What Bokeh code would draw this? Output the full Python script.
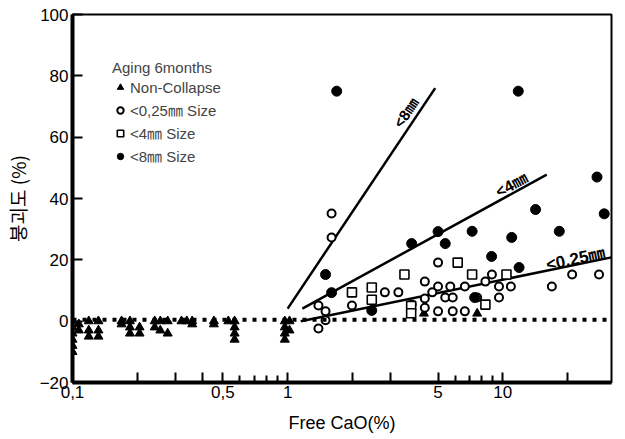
from bokeh.plotting import figure
from bokeh.models import Range1d, FixedTicker, Span, Legend, LegendItem, ColumnDataSource
from bokeh.core.properties import value
from bokeh.embed import file_html
from bokeh.resources import INLINE

# ---- data ----
nc_x = [0.1, 0.1, 0.1, 0.1, 0.1, 0.1, 0.107, 0.107, 0.119, 0.119, 0.119, 0.132, 0.132, 0.132,
        0.169, 0.169, 0.185, 0.185, 0.185, 0.205, 0.205, 0.241, 0.241, 0.256, 0.256, 0.277, 0.277,
        0.321, 0.34, 0.36, 0.36, 0.454, 0.454, 0.53, 0.567, 0.567, 0.567, 0.567,
        0.97, 0.97, 0.97, 0.97, 1.02, 1.02, 4.3, 7.6]
nc_y = [0, -2, -4, -6, -8, -10, -1, -3, 0, -3, -5, 0, -3, -5,
        0, -1, 0, -2, -4, -2, -4, 0, -2, 0, -3, 0, -4,
        0, 0, 0, -1, 0, -1, 0, 0, -2, -4, -6,
        0, -2, -4, -6, 0, -3, 2.5, 2.5]

c025_x = [1.6, 1.6, 1.39, 1.5, 1.5, 1.39, 1.99, 2.83, 3.27, 3.77, 4.34, 4.34, 4.34, 4.7, 5.0, 5.0,
          5.0, 5.4, 5.7, 5.85, 5.85, 6.66, 6.66, 7.6, 8.3, 8.9, 9.6, 9.6, 10.9, 16.9, 21, 28]
c025_y = [35.1, 27.3, 5.1, 3.2, 0.3, -2.4, 5.1, 9.4, 9.4, 5.4, 12.9, 7.4, 4.4, 9.4, 19.1, 11.3,
          3.2, 7.7, 11.3, 7.7, 3.2, 11.3, 3.2, 7.7, 12.9, 15.2, 11.3, 7.7, 11.3, 11.3, 15.2, 15.2]

s4_x = [1.99, 2.46, 2.46, 3.49, 3.75, 3.75, 6.17, 7.2, 10.4, 8.3]
s4_y = [9.4, 11.0, 7.0, 15.2, 5.0, 2.6, 19.1, 15.2, 15.2, 5.4]

f8_x = [1.69, 11.8, 27.4, 14.2, 29.6, 7.2, 11.0, 18.3, 3.77, 5.0, 5.4, 8.87, 11.9, 1.5, 1.6, 2.46, 7.4]
f8_y = [75, 75, 47, 36.4, 35, 29.3, 27.3, 29.3, 25.3, 29.2, 25.3, 21.1, 17.5, 15.2, 9.3, 3.5, 7.7]

line8_x = [1.0, 4.85]
line8_y = [4.1, 76]
line4_x = [1.17, 16.0]
line4_y = [4.1, 47.8]
line025_x = [1.15, 32]
line025_y = [0, 20.8]

line_labels = ["<8㎜", "<4㎜", "<0.25㎜"]
label_x = [3.55, 11.0, 21.8]
label_y = [68.0, 44.5, 20.3]
label_angle = [55.6, 28.2, 11.8]
label_size = ["15px", "16px", "17px"]

x_ticks = [0.1, 0.2, 0.3, 0.4, 0.5, 1, 2, 3, 5, 10, 20]
x_minor = [0.6, 0.7, 0.8, 0.9, 6, 7, 8, 9]
x_tick_labels = {0.1: "0,1", 0.2: "", 0.3: "", 0.4: "", 0.5: "0,5", 1: "1", 2: "", 3: "",
                 5: "5", 10: "10", 20: ""}
y_ticks = [-20, 0, 20, 40, 60, 80, 100]

FONT = "Liberation Sans, Noto Sans CJK KR"

p = figure(width=615, height=436, x_axis_type="log",
           x_range=Range1d(0.1, 32), y_range=Range1d(-20, 100),
           output_backend="svg", toolbar_location=None,
           min_border_left=58, min_border_right=4, min_border_top=14, min_border_bottom=54)
p.xgrid.visible = False
p.ygrid.visible = False
p.outline_line_color = "black"
p.outline_line_width = 2
p.background_fill_color = "white"

# axes
p.xaxis.ticker = FixedTicker(ticks=x_ticks, minor_ticks=x_minor)
p.xaxis.major_label_overrides = x_tick_labels
p.yaxis.ticker = FixedTicker(ticks=y_ticks, minor_ticks=[])
for ax in (p.xaxis[0], p.yaxis[0]):
    ax.axis_line_width = 4
    ax.axis_line_color = "black"
    ax.major_tick_in = 10
    ax.major_tick_out = 0
    ax.minor_tick_in = 7
    ax.minor_tick_out = 0
    ax.major_tick_line_width = 2
    ax.minor_tick_line_width = 2
    ax.major_label_text_font = FONT
    ax.major_label_text_font_size = "17px"
    ax.major_label_text_color = "black"
    ax.axis_label_text_font_style = "normal"
    ax.axis_label_text_color = "black"
p.xaxis.axis_label = "Free CaO(%)"
p.xaxis.axis_label_text_font = FONT
p.xaxis.axis_label_text_font_size = "18px"
p.xaxis.major_label_standoff = 3
p.xaxis.axis_label_standoff = 12
p.yaxis.axis_label = "붕괴도 (%)"
p.yaxis.axis_label_text_font = "Noto Sans CJK KR"
p.yaxis.axis_label_text_font_size = "19px"
p.yaxis.major_label_standoff = 4
p.yaxis.axis_label_standoff = 6

# zero dotted line
p.add_layout(Span(location=0.5, dimension="width", line_color="black",
                  line_width=4, line_dash="4 6"))

# regression lines
p.line(line8_x, line8_y, line_color="black", line_width=2.5)
p.line(line4_x, line4_y, line_color="black", line_width=2.5)
p.line(line025_x, line025_y, line_color="black", line_width=2.5)

# points
r_nc = p.scatter(nc_x, nc_y, marker="triangle", size=9, fill_color="black", line_color="black")
r_025 = p.scatter(c025_x, c025_y, marker="circle", size=8, fill_color="white",
                  line_color="black", line_width=2)
r_4 = p.scatter(s4_x, s4_y, marker="square", size=9, fill_color="white",
                line_color="black", line_width=1.6)
r_8 = p.scatter(f8_x, f8_y, marker="circle", size=10, fill_color="black", line_color="black")

# line labels
src = ColumnDataSource(dict(x=label_x, y=label_y, t=line_labels, a=label_angle, s=label_size))
p.text(x="x", y="y", text="t", angle="a", angle_units="deg", source=src,
       text_font=value(FONT), text_font_size="s", text_font_style="bold", text_color="black",
       text_align="center", text_baseline="middle")

legend = Legend(items=[
    LegendItem(label="Non-Collapse", renderers=[r_nc]),
    LegendItem(label="<0,25㎜ Size", renderers=[r_025]),
    LegendItem(label="<4㎜ Size", renderers=[r_4]),
    LegendItem(label="<8㎜ Size", renderers=[r_8]),
], title="Aging 6months", location=(40, 216),
    border_line_color=None, background_fill_alpha=0,
    title_text_font=FONT, title_text_font_size="15px", title_text_font_style="normal",
    label_text_font=FONT, label_text_font_size="15px",
    glyph_width=16, glyph_height=20, label_height=20, spacing=2, padding=4,
    label_standoff=2, title_standoff=1)
p.add_layout(legend)

open("out.html", "w").write(file_html(p, INLINE))
